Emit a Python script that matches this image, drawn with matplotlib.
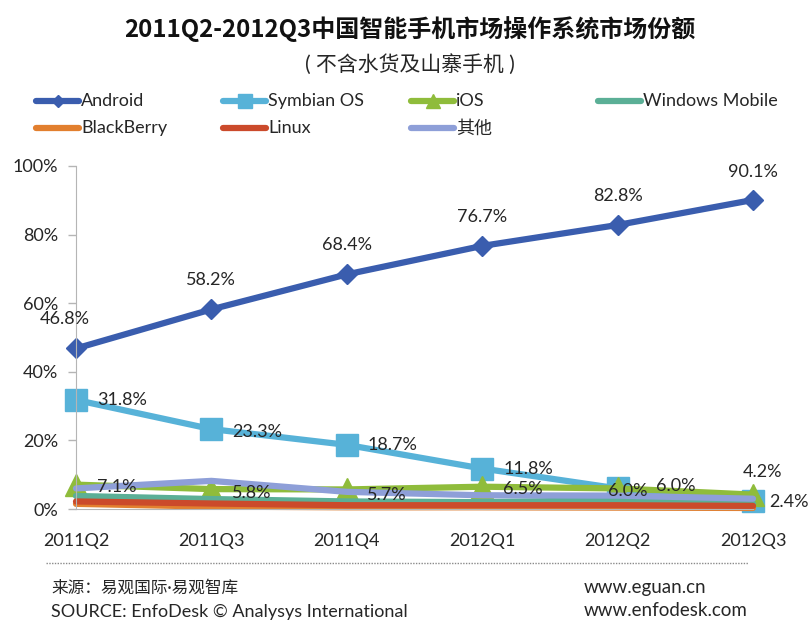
from matplotlib import pyplot as plt
from matplotlib.lines import Line2D

plt.rcParams['font.family'] = ['Lato', 'Noto Sans CJK SC', 'DejaVu Sans']

quarters = ['2011Q2', '2011Q3', '2011Q4', '2012Q1', '2012Q2', '2012Q3']
android = [46.8, 58.2, 68.4, 76.7, 82.8, 90.1]
symbian = [31.8, 23.3, 18.7, 11.8, 6.0, 2.4]
ios = [7.1, 5.8, 5.7, 6.5, 6.0, 4.2]
windows_mobile = [3.8, 2.9, 2.2, 2.0, 2.6, 1.6]
blackberry = [1.5, 0.7, 0.5, 0.5, 0.4, 0.3]
linux = [2.2, 1.6, 1.1, 1.1, 1.1, 0.9]
others = [6.0, 8.2, 5.0, 4.0, 3.9, 3.0]
yticks = [0, 20, 40, 60, 80, 100]

W, H = 810, 628
text_color = '#262626'

fig = plt.figure(figsize=(W / 100, H / 100), dpi=100)
ax = fig.add_axes([76 / W, 1 - 509 / H, (753 - 76) / W, (509 - 166) / H])

x = list(range(len(quarters)))
series = [
    ('Android', android, '#3A5DAE', 'D', 10),
    ('Symbian OS', symbian, '#57B2D8', 's', 16),
    ('iOS', ios, '#8FBC3B', '^', 16),
    ('Windows Mobile', windows_mobile, '#5BAF96', None, 0),
    ('BlackBerry', blackberry, '#E27F2E', None, 0),
    ('Linux', linux, '#CB4A2B', None, 0),
    ('其他', others, '#8E9FD8', None, 0),
]
for name, values, color, marker, msize in series:
    ax.plot(x, values, color=color, lw=4.5, marker=marker, ms=msize, mec=color,
            clip_on=False, solid_capstyle='round', solid_joinstyle='round')

ax.set_xlim(0, 5)
ax.set_ylim(0, 100)
ax.set_xticks(x, quarters)
ax.set_yticks(yticks, [f'{v}%' for v in yticks])
ax.tick_params(axis='y', length=6, width=1, color='#b5b5b5', labelsize=13,
               labelcolor=text_color, pad=7)
ax.tick_params(axis='x', length=0, labelsize=13, labelcolor=text_color, pad=17)
for side in ['top', 'right']:
    ax.spines[side].set_visible(False)
for side in ['left', 'bottom']:
    ax.spines[side].set_color('#b5b5b5')

# data labels, offsets in points from the marker
android_off = [(-8, 21), (0, 21), (0, 21), (0, 21), (0, 21), (0, 20)]
symbian_off = [(33, 0), (33, -2), (33, 0), (33, 0), (7, -2), (26, -1)]
ios_off = [(29, -2), (29, -3), (29, -4), (29, -2), (42, 2), (7, 16)]
for values, offsets in [(android, android_off), (symbian, symbian_off), (ios, ios_off)]:
    for i, v in enumerate(values):
        ax.annotate(f'{v}%', (i, v), xytext=offsets[i], textcoords='offset points',
                    ha='center', va='center', fontsize=13, color=text_color,
                    annotation_clip=False, zorder=10)

# legend, equal column widths like the original
col_x = [36, 223, 411, 598]
row_y = [101, 128]
layout = [(0, 0), (1, 0), (2, 0), (3, 0), (0, 1), (1, 1), (2, 1)]
for (name, values, color, marker, msize), (c, r) in zip(series, layout):
    x0 = col_x[c]
    fy = 1 - row_y[r] / H
    fig.add_artist(Line2D([x0 / W, (x0 + 43) / W], [fy, fy], color=color, lw=4.5,
                          solid_capstyle='round'))
    if marker:
        fig.add_artist(Line2D([(x0 + 22) / W], [fy], color=color, marker=marker,
                              ms=msize * 0.6, mec=color))
    fig.text((x0 + 45) / W, fy, name, ha='left', va='center', fontsize=13, color=text_color)

fig.text(410 / W, 1 - 29 / H, '2011Q2-2012Q3中国智能手机市场操作系统市场份额', ha='center',
         va='center', fontsize=17.3, fontweight='bold', color='#111111',
         family=['Noto Sans CJK SC', 'DejaVu Sans'])
fig.text(410 / W, 1 - 64 / H, '( 不含水货及山寨手机 )', ha='center', va='center',
         fontsize=15, color=text_color)

# footer
fig.add_artist(Line2D([46 / W, 748 / W], [1 - 563 / H, 1 - 563 / H], color='#8a8a8a', lw=1,
                      linestyle=(0, (1, 1))))
fig.text(51 / W, 1 - 588 / H, '来源：易观国际·易观智库', ha='left', va='center', fontsize=12, color=text_color)
fig.text(51 / W, 1 - 612 / H, 'SOURCE: EnfoDesk © Analysys International', ha='left', va='center',
         fontsize=13, color=text_color)
fig.text(584 / W, 1 - 587 / H, 'www.eguan.cn', ha='left', va='center', fontsize=13.5, color=text_color)
fig.text(584 / W, 1 - 610 / H, 'www.enfodesk.com', ha='left', va='center', fontsize=13.5, color=text_color)

fig.savefig('out.png', dpi=100)
